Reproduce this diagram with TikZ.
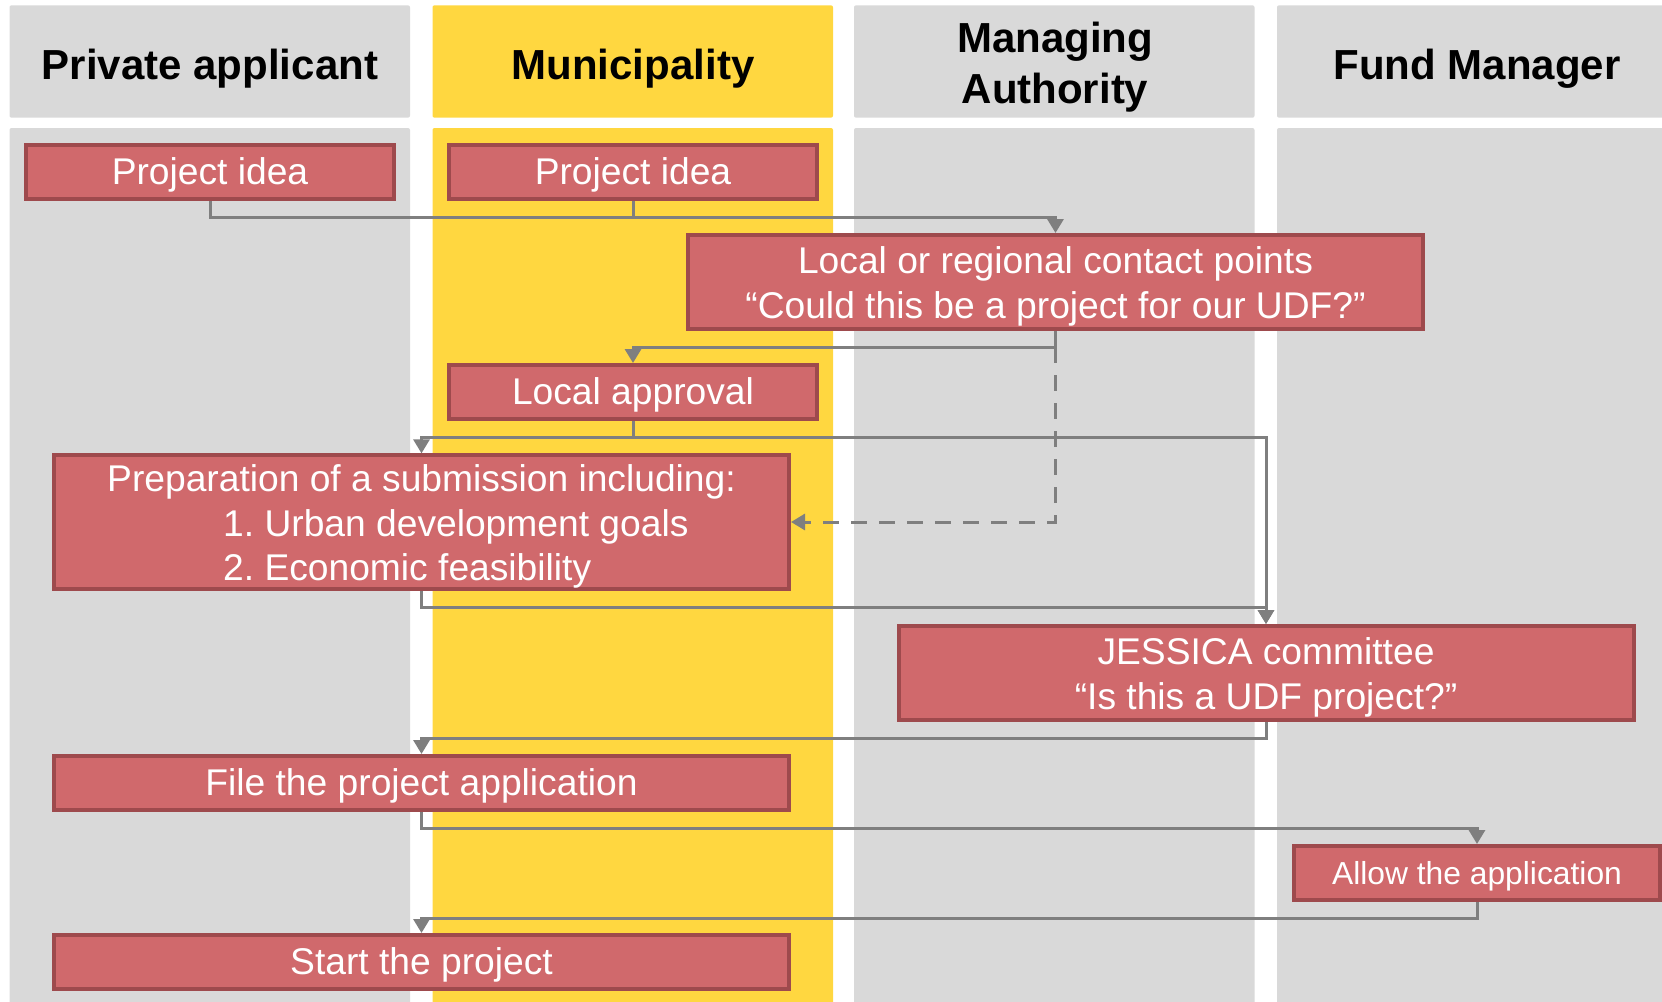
\documentclass[tikz,border=0pt]{standalone}
\usepackage{fontspec}
\setmainfont{Liberation Sans}
\usepackage{xcolor}
\usepackage{tikz}
\usetikzlibrary{arrows.meta,positioning,calc}
\definecolor{lanegray}{RGB}{217,217,217}
\definecolor{laneyellow}{RGB}{255,215,64}
\definecolor{boxfill}{RGB}{208,105,108}
\definecolor{boxline}{RGB}{158,74,77}
\definecolor{flowgray}{RGB}{127,127,127}
\newcommand{\lnstrut}{\rule[-0.212em]{0pt}{1.117em}}
\newcommand{\topstrut}{\rule{0pt}{\dimexpr 0.905em+2.5pt\relax}}

\begin{document}
\begin{tikzpicture}[x=1pt,y=-1pt,
    lanehead/.style={font=\fontsize{42}{50.5}\selectfont\bfseries, align=center, inner sep=0pt,
      execute at begin node=\lnstrut, execute at end node=\lnstrut},
    stepbox/.style={draw=boxline, fill=boxfill, line width=4pt, text=white, inner sep=0pt,
      font=\fontsize{37.2}{44.6}\selectfont, align=center, minimum height=54pt,
      execute at begin node=\lnstrut, execute at end node=\lnstrut},
    flow/.style={draw=flowgray, line width=3pt, -{Triangle[length=14pt,width=16pt]}}]
        \useasboundingbox (0,0) rectangle (1662,1001);
        \clip (0,0) rectangle (1662,1001);

        % Swim lanes
        \foreach \lx/\lc in {9.5/lanegray, 432.5/laneyellow, 854/lanegray, 1277/lanegray} {
            \fill[\lc, rounded corners=2pt] (\lx,5.3) rectangle ++(400.5,112.4);
            \fill[\lc, rounded corners=2pt] (\lx,128) rectangle ++(400.5,890);
        }

        % Lane titles
        \node[lanehead] (hPriv) at (210,64.5) {Private applicant};
        \node[lanehead] (hMun) at (633,64.5) {Municipality};
        \node[lanehead] (hMA) at (1055,67) {Managing\\Authority};
        \node[lanehead] (hFM) at (1477,64.5) {Fund Manager};

        % Steps
        \node[stepbox, minimum width=368pt] (ideaPriv) at (210,172) {Project idea};
        \node[stepbox, minimum width=368pt] (ideaMun) at (633,172) {Project idea};
        \node[stepbox, minimum width=735pt, minimum height=94pt] (contact) at (1055.5,282)
            {\topstrut Local or regional contact points\\``Could this be a project for our UDF?''};
        \node[stepbox, minimum width=368pt] (approval) at (633,392) {Local approval};
        \node[stepbox, minimum width=735pt, minimum height=132pt, align=left] (prep) at (421.5,522)
            {\topstrut Preparation of a submission including:\\
             \hspace*{116pt}1.\ Urban development goals\\
             \hspace*{116pt}2.\ Economic feasibility};
        \node[stepbox, minimum width=735pt, minimum height=94pt] (jessica) at (1266,673)
            {\topstrut JESSICA committee\\``Is this a UDF project?''};
        \node[stepbox, minimum width=735pt] (fileApp) at (421.5,783) {File the project application};
        \node[stepbox, minimum width=366pt, font=\fontsize{31.8}{38}\selectfont] (allowApp) at (1477,873)
            {Allow the application};
        \node[stepbox, minimum width=735pt] (startProj) at (421.5,962) {Start the project};

        % Flow
        \draw[flow] (ideaPriv.south) -- ++(0,16) -| (contact.north);
        \draw[flow, -] (ideaMun.south) -- ++(0,16);
        \draw[flow] (contact.south) -- ++(0,16) coordinate (contactSplit) -| (approval.north);
        \draw[flow, dash pattern=on 16pt off 12pt] (contactSplit) |- (prep.east);
        \draw[flow] (approval.south) -- ++(0,16) coordinate (approvalSplit) -| (prep.north);
        \draw[flow] (approvalSplit) -| (jessica.north);
        \draw[flow] (prep.south) -- ++(0,17) -| (jessica.north);
        \draw[flow] (jessica.south) -- ++(0,16) -| (fileApp.north);
        \draw[flow] (fileApp.south) -- ++(0,16) -| (allowApp.north);
        \draw[flow] (allowApp.south) -- ++(0,16) -| (startProj.north);
    \end{tikzpicture}
\end{document}
